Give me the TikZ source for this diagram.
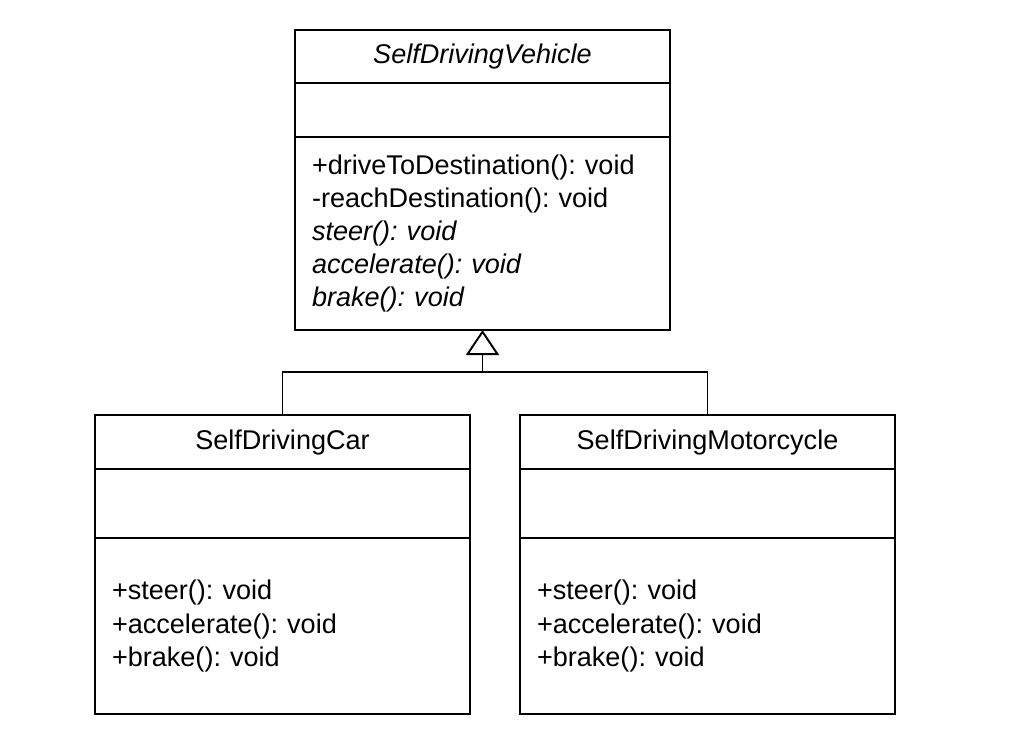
\documentclass[tikz,border=0pt]{standalone}
\usepackage{fontspec}
\setmainfont{Liberation Sans}
\usetikzlibrary{arrows.meta, positioning}
\tikzset{
  umlName/.style={rectangle, draw=black, line width=1.1pt, outer sep=0pt,
                  minimum width=7.5cm, minimum height=1.07cm, align=center},
  umlAttr/.style={rectangle, draw=black, line width=1.1pt, outer sep=0pt,
                  minimum width=7.5cm, minimum height=1.08cm},
  umlOps/.style={rectangle, draw=black, line width=1.1pt, outer sep=0pt,
                 text width=6.82cm, inner xsep=0.34cm, align=left,
                 minimum height=3.86cm},
  inherit/.style={-{Triangle[open, length=0.5cm, width=0.66cm]}, line width=1.1pt},
  link/.style={line width=1.1pt},
}
\frenchspacing
\begin{document}
\begin{tikzpicture}[font=\fontsize{15.4}{18.8}\selectfont\frenchspacing]
    \useasboundingbox (0,0) rectangle (20.42,-14.8);
    % abstract parent
    \node[umlName, anchor=north west, minimum height=1.06cm] (vehName) at (5.9,-0.6) {\itshape SelfDrivingVehicle};
    \node[umlAttr, below=0pt of vehName] (vehAttr) {};
    \node[umlOps, below=0pt of vehAttr] (vehOps) {+driveToDestination(): void\\
      -reachDestination(): void\\
      \itshape steer(): void\\
      \itshape accelerate(): void\\
      \itshape brake(): void};
    % subclasses
    \node[umlName, anchor=north west, minimum height=1.08cm] (carName) at (1.9,-8.3) {SelfDrivingCar};
    \node[umlAttr, below=0pt of carName, minimum height=1.38cm] (carAttr) {};
    \node[umlOps, below=0pt of carAttr, minimum height=3.52cm] (carOps) {+steer(): void\\
      +accelerate(): void\\
      +brake(): void};
    \node[umlName, anchor=north west, minimum height=1.08cm] (motoName) at (10.4,-8.3) {SelfDrivingMotorcycle};
    \node[umlAttr, below=0pt of motoName, minimum height=1.38cm] (motoAttr) {};
    \node[umlOps, below=0pt of motoAttr, minimum height=3.52cm] (motoOps) {+steer(): void\\
      +accelerate(): void\\
      +brake(): void};
    % generalisation
    \coordinate[below=0.84cm of vehOps.south] (junc);
    \draw[link] (carName.north) |- (junc) -| (motoName.north);
    \draw[inherit] (junc) -- (vehOps.south);
  \end{tikzpicture}
\end{document}
